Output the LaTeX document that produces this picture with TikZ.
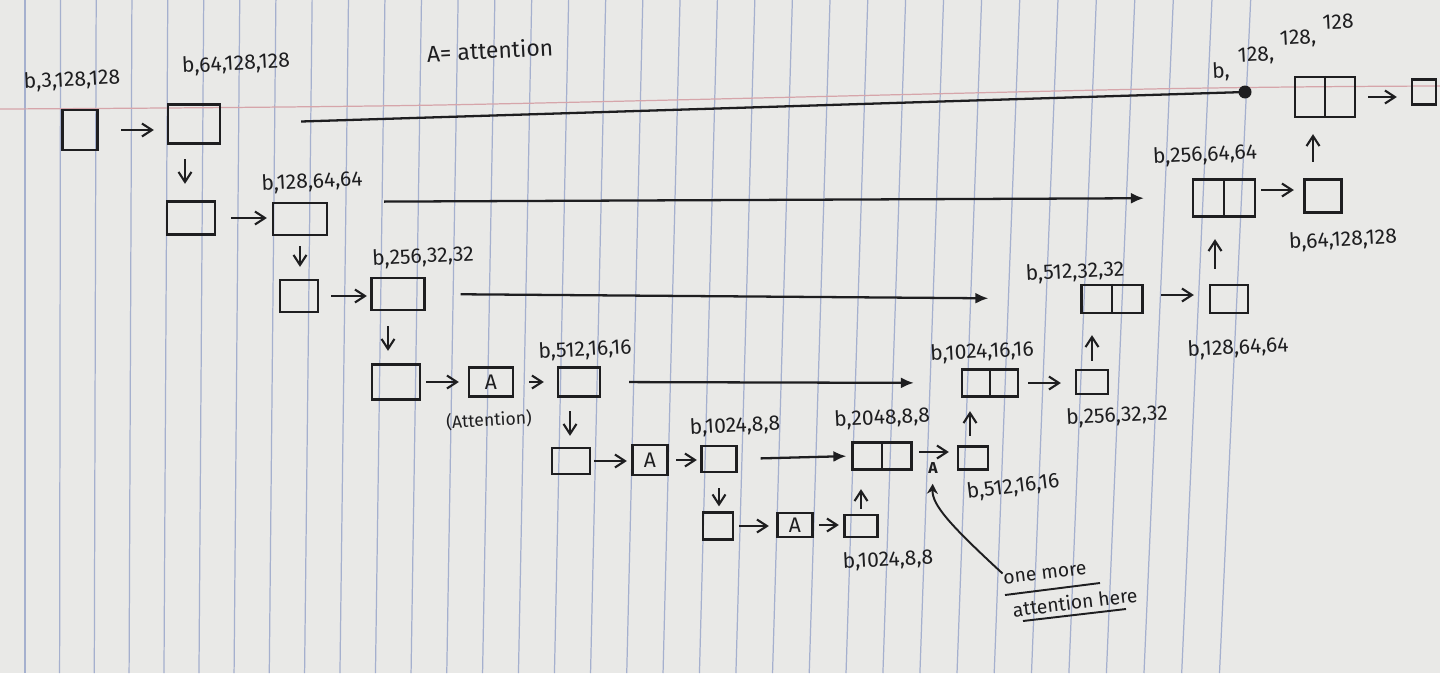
\documentclass[tikz,border=0pt]{standalone}
\usepackage{fontspec}
\setmainfont{Fira Sans}
\usetikzlibrary{arrows.meta,calc}
\definecolor{paper}{RGB}{233,233,231}
\definecolor{ink}{RGB}{30,30,32}
\definecolor{rulecol}{RGB}{165,176,206}
\definecolor{redrule}{RGB}{214,165,170}
\begin{document}
\begin{tikzpicture}[x=0.02cm,y=-0.02cm,
  bx/.style={draw=ink,line width=1.3pt,inner sep=0pt,text=ink,font=\fontsize{12}{14}\selectfont},
  sz/.style 2 args={minimum width=#1*0.02cm,minimum height=#2*0.02cm},
  lbl/.style={text=ink,font=\fontsize{12}{14}\selectfont,inner sep=0pt,rotate=3},
  arr/.style={draw=ink,line width=1.2pt,-{Straight Barb[length=2mm,width=2.6mm]}},
  skipline/.style={draw=ink,line width=1.3pt,-{Latex[length=2.6mm,width=2.2mm]}},
  divider/.style={draw=ink,line width=1.3pt},
]
% paper
\fill[paper] (0,0) rectangle (1440,673);
\useasboundingbox (0,0) rectangle (1440,673);
\foreach \i in {0,...,33}{
  \pgfmathsetmacro\xb{25+35*\i+0.05*\i*\i}
  \pgfmathsetmacro\dx{0.0014*\i}
  \draw[rulecol,line width=0.7pt] (\xb+350*\dx,0) -- (\xb-323*\dx,673);
}
\draw[redrule,line width=0.7pt] plot[smooth] coordinates {(0,109) (440,105) (1150,89) (1440,86)};

% title
\node[lbl,font=\fontsize{13}{15}\selectfont] (title) at (490,50) {A= attention};

% encoder boxes
\node[bx,sz={35}{40}] (r1a) at (80,130) {};
\node[bx,sz={52}{39}] (r1b) at (194,124) {};
\node[bx,sz={48}{33}] (r2a) at (191,218) {};
\node[bx,sz={54}{32}] (r2b) at (300,219) {};
\node[bx,sz={38}{32}] (r3a) at (299,296) {};
\node[bx,sz={53}{32}] (r3b) at (398,294) {};
\node[bx,sz={48}{35}] (r4a) at (396,382) {};
\node[bx,sz={44}{29}] (A1) at (491,382) {A};
\node[bx,sz={42}{29}] (r4b) at (579,382) {};
\node[bx,sz={38}{26}] (r5a) at (571,461) {};
\node[bx,sz={35}{30}] (A2) at (650,460) {A};
\node[bx,sz={35}{26}] (r5b) at (719,459) {};
\node[bx,sz={30}{27}] (r6a) at (718,526) {};
\node[bx,sz={35}{24}] (A3) at (795,525) {A};
\node[bx,sz={33}{22}] (r6b) at (861,526) {};

% decoder boxes
\node[bx,sz={59}{27}] (c5) at (882,456) {};
\draw[divider] (c5.north) -- (c5.south);
\node[bx,sz={30}{23}] (u5) at (973,458) {};
\node[bx,sz={56}{27}] (c4) at (990,383) {};
\draw[divider] (c4.north) -- (c4.south);
\node[bx,sz={32}{24}] (u4) at (1092,382) {};
\node[bx,sz={61}{28}] (c3) at (1112,299) {};
\draw[divider] (c3.north) -- (c3.south);
\node[bx,sz={38}{28}] (u3) at (1229,299) {};
\node[bx,sz={62}{37}] (c2) at (1224,198) {};
\draw[divider] (c2.north) -- (c2.south);
\node[bx,sz={37}{33}] (u2) at (1323,196) {};
\node[bx,sz={60}{40}] (c1) at (1325,97) {};
\draw[divider] (c1.north) -- (c1.south);
\node[bx,sz={24}{25}] (out) at (1424,92) {};

% labels
\node[lbl] at (72,80) {b,3,128,128};
\node[lbl] at (236,64) {b,64,128,128};
\node[lbl] at (312,182) {b,128,64,64};
\node[lbl] at (423,257) {b,256,32,32};
\node[lbl] at (585,350) {b,512,16,16};
\node[lbl,font=\fontsize{10}{12}\selectfont] at (489,420) {(Attention)};
\node[lbl] at (735,426) {b,1024,8,8};
\node[lbl] at (882,418) {b,2048,8,8};
\node[lbl] at (888,560) {b,1024,8,8};
\node[lbl,rotate=4] at (1013,487) {b,512,16,16};
\node[lbl] at (982,352) {b,1024,16,16};
\node[lbl] at (1117,416) {b,256,32,32};
\node[lbl] at (1075,272) {b,512,32,32};
\node[lbl] at (1238,348) {b,128,64,64};
\node[lbl] at (1205,155) {b,256,64,64};
\node[lbl] at (1343,240) {b,64,128,128};
% slanted label, written word by word
\node[lbl] at (1221,72) {b,};
\node[lbl] at (1256,56) {128,};
\node[lbl] at (1298,39) {128,};
\node[lbl] at (1338,22) {128};

% encoder arrows
\draw[arr,shorten <=0.45cm,shorten >=0.26cm] (r1a.east) -- (r1a.east -| r1b.west);
\draw[arr,shorten <=0.29cm,shorten >=0.33cm] ([xshift=-0.18cm]r1b.south) -- ([xshift=-0.18cm]r1b.south |- r2a.north);
\draw[arr,shorten <=0.3cm,shorten >=0.1cm] (r2a.east) -- (r2a.east -| r2b.west);
\draw[arr,shorten <=0.2cm,shorten >=0.24cm] (r2b.south) -- (r2b.south |- r3a.north);
\draw[arr,shorten <=0.24cm,shorten >=0.07cm] (r3a.east) -- (r3a.east -| r3b.west);
\draw[arr,shorten <=0.3cm,shorten >=0.25cm] ([xshift=-0.2cm]r3b.south) -- ([xshift=-0.2cm]r3b.south |- r4a.north);
\draw[arr,shorten <=0.1cm,shorten >=0.18cm] (r4a.east) -- (r4a.east -| A1.west);
\draw[arr,shorten <=0.3cm,shorten >=0.26cm] (A1.east) -- (A1.east -| r4b.west);
\draw[arr,shorten <=0.27cm,shorten >=0.22cm] ([xshift=-0.18cm]r4b.south) -- ([xshift=-0.18cm]r4b.south |- r5a.north);
\draw[arr,shorten <=0.06cm,shorten >=0.09cm] (r5a.east) -- (r5a.east -| A2.west);
\draw[arr,shorten <=0.15cm,shorten >=0.07cm] (A2.east) -- (A2.east -| r5b.west);
\draw[arr,shorten <=0.3cm,shorten >=0.1cm] (r5b.south) -- (r5b.south |- r6a.north);
\draw[arr,shorten <=0.1cm,shorten >=0.15cm] (r6a.east) -- (r6a.east -| A3.west);
\draw[arr,shorten <=0.11cm,shorten >=0.09cm] (A3.east) -- (A3.east -| r6b.west);

% decoder arrows
\draw[arr,shorten <=0.1cm,shorten >=0.37cm] (r6b.north) -- (r6b.north |- c5.south);
\draw[arr,shorten <=0.13cm,shorten >=0.16cm] ([yshift=0.08cm]c5.east) -- ([yshift=0.08cm]c5.east -| u5.west);
\node[text=ink,font=\bfseries\fontsize{9}{10}\selectfont,inner sep=0pt] (amark) at (933,468) {A};
\draw[arr,shorten <=0.19cm,shorten >=0.27cm] ([xshift=-0.06cm]u5.north) -- ([xshift=-0.06cm]u5.north |- c4.south);
\draw[arr,shorten <=0.18cm,shorten >=0.28cm] (c4.east) -- (c4.east -| u4.west);
\draw[arr,shorten <=0.16cm,shorten >=0.42cm] (u4.north) -- (u4.north |- c3.south);
\draw[arr,shorten <=0.35cm,shorten >=0.3cm] ([yshift=0.08cm]c3.east) -- ([yshift=0.08cm]c3.east -| u3.west);
\draw[arr,shorten <=0.3cm,shorten >=0.43cm] ([xshift=-0.28cm]u3.north) -- ([xshift=-0.28cm]u3.north |- c2.south);
\draw[arr,shorten <=0.1cm,shorten >=0.19cm] ([yshift=0.16cm]c2.east) -- ([yshift=0.16cm]c2.east -| u2.west);
\draw[arr,shorten <=0.33cm,shorten >=0.32cm] ([xshift=-0.2cm]u2.north) -- ([xshift=-0.2cm]u2.north |- c1.south);
\draw[arr,shorten <=0.24cm,shorten >=0.28cm] (c1.east) -- (c1.east -| out.west);

% skip connections
\coordinate (dot1) at (1245,92);
\draw[ink,line width=1.3pt,shorten <=1.6cm] (r1b.east) -- (dot1);
\fill[ink] (dot1) circle[radius=0.13cm];
\draw[skipline,shorten <=1.12cm,shorten >=0.96cm] (r2b.north east) -- (c2.west);
\draw[skipline,shorten <=0.7cm,shorten >=1.84cm] (r3b.east) -- (c3.west);
\draw[skipline,shorten <=0.56cm,shorten >=0.94cm] (r4b.east) -- (c4.west);
\draw[skipline,shorten <=0.46cm,shorten >=0.1cm] (r5b.east) -- (c5.west);

% annotation
\node[lbl,rotate=4,font=\fontsize{11}{13}\selectfont] (note1) at (1045,574) {one more};
\node[lbl,rotate=4,font=\fontsize{11}{13}\selectfont] (note2) at (1075,602) {attention here};
\draw[ink,line width=1.1pt] (1005,595) -- (1100,583);
\draw[ink,line width=1.1pt] (1023,621) -- (1126,609);
\draw[ink,line width=1.1pt,-{Stealth[length=2mm,width=2.2mm]},shorten >=0.2cm] (note1.north west) .. controls (950,525) and (932,505) .. (amark.south);
\end{tikzpicture}
\end{document}
